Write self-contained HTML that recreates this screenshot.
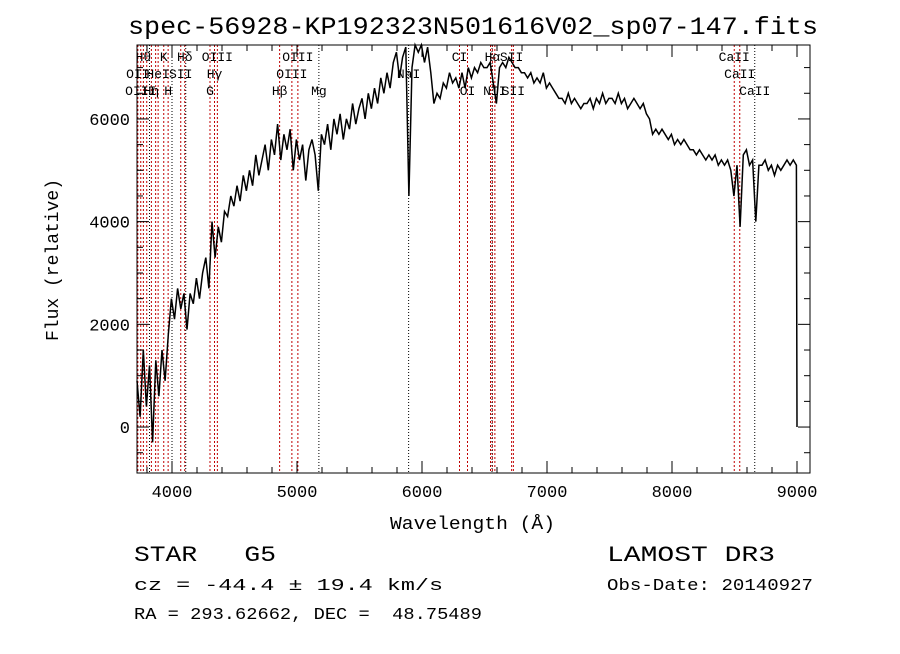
<!DOCTYPE html>
<html><head><meta charset="utf-8"><style>
body{margin:0;background:#fff;width:900px;height:649px;overflow:hidden}
svg text{font-family:"Liberation Mono",monospace;fill:#000;white-space:pre}
</style></head><body>
<svg id="chart" width="900" height="649" xmlns="http://www.w3.org/2000/svg">
<rect width="900" height="649" fill="#fff"/>
<text x="128" y="34" font-size="25" textLength="690" lengthAdjust="spacingAndGlyphs">spec-56928-KP192323N501616V02_sp07-147.fits</text>
<g id="lines"></g><g id="spec"></g><g id="axes"></g>
<text x="390" y="529" font-size="18" textLength="165" lengthAdjust="spacingAndGlyphs">Wavelength (Å)</text>
<text transform="translate(58,260) rotate(-90)" font-size="18" text-anchor="middle">Flux (relative)</text>
<text x="134" y="561" font-size="22" textLength="142" lengthAdjust="spacingAndGlyphs">STAR   G5</text>
<text x="607" y="561" font-size="22" textLength="168" lengthAdjust="spacingAndGlyphs">LAMOST DR3</text>
<text x="134" y="590" font-size="17" textLength="309" lengthAdjust="spacingAndGlyphs">cz = -44.4 ± 19.4 km/s</text>
<text x="607" y="590" font-size="17" textLength="206" lengthAdjust="spacingAndGlyphs">Obs-Date: 20140927</text>
<text x="134" y="619" font-size="17" textLength="348" lengthAdjust="spacingAndGlyphs">RA = 293.62662, DEC =  48.75489</text>
</svg>
<script>
const wlStart=3720, wlStep=25;
const flux=[900,200,1500,400,1200,-300,1300,600,
1500,900,1800,2500,2100,2700,2300,2600,
1900,2600,2400,2900,2500,3000,3300,2700,
4000,3300,3900,3600,4200,4100,4500,4300,
4700,4400,4900,4600,5000,4700,5300,4900,
5200,5500,5000,5600,5300,5900,5200,5700,
5400,5800,5000,5600,5200,5500,4800,5400,
5600,5300,4600,5700,5500,5900,5400,6000,
5700,6100,5600,6000,5800,6300,5900,6200,
6400,6000,6500,6200,6600,6300,6800,6500,
6900,6600,7100,7300,6800,7200,7400,4500,
7000,7500,7300,7600,7100,7400,6900,6300,
6500,6400,6700,6600,6900,6700,6800,6600,
6900,6600,7000,6800,7000,6900,7100,7000,
7000,7100,6700,6300,7000,7100,7000,7200,
7100,7000,7000,6900,6900,6800,6900,6700,
6800,6700,6900,6600,6700,6600,6500,6400,
6400,6300,6500,6300,6400,6300,6200,6300,
6300,6400,6200,6400,6300,6500,6300,6400,
6400,6300,6500,6300,6400,6200,6300,6400,
6300,6200,6300,6100,6000,5700,5800,5700,
5800,5700,5600,5700,5500,5600,5500,5600,
5500,5400,5400,5300,5400,5300,5200,5300,
5200,5300,5100,5200,5100,5200,5000,4500,
5100,3900,5300,5400,5100,5200,4000,5100,
5100,5200,5000,5100,4900,5100,5000,5100,
5200,5100,5200,5100,0];
const xTicks=[4000,5000,6000,7000,8000,9000];
const yTicks=[0,2000,4000,6000];
const redLines=[3727,3750,3771,3798,3835,3869,3889,3934,3969,4070,4102,4304,4340,4363,4861,4959,5007,6300,6364,6548,6563,6583,6717,6731,8498,8542];
const blackLines=[3820,4000,4110,5175,5893,6560,8662];
const lineLabels=["Hθ","K","Hδ","OIII","OIII","CI","Hα","SII","CaII","OII","HeI","SII","Hγ","OIII","NaI","CaII","OIII","Hη","H","G","Hβ","Mg","OI","NII","SII","CaII"];
const labelWl=[3771,3934,4102,4363,5007,6300,6563,6717,8498,3727,3889,4070,4340,4959,5893,8542,3750,3835,3969,4304,4861,5175,6364,6583,6731,8662];
const labelRow=[0,0,0,0,0,0,0,0,0,1,1,1,1,1,1,1,2,2,2,2,2,2,2,2,2,2];
const X0=137,X1=810,Y0=45,Y1=473,WMIN=3720,WMAX=9104,FMIN=-895,FMAX=7440;
const xs=w=>X0+(w-WMIN)/(WMAX-WMIN)*(X1-X0);
const ys=f=>Y1-(f-FMIN)/(FMAX-FMIN)*(Y1-Y0);
const NS="http://www.w3.org/2000/svg";
function mk(tag,parent,attrs){const e=document.createElementNS(NS,tag);for(const k in attrs)e.setAttribute(k,attrs[k]);parent.appendChild(e);return e;}
const gL=document.getElementById('lines'),gS=document.getElementById('spec'),gA=document.getElementById('axes');
redLines.forEach(w=>{const l=mk('line',gL,{x1:xs(w),x2:xs(w),y1:Y0,y2:Y1,stroke:'#c00000','stroke-width':1,'stroke-dasharray':'2,2'});

});
blackLines.forEach(w=>{const l=mk('line',gL,{x1:xs(w),x2:xs(w),y1:Y0,y2:Y1,stroke:'#000','stroke-width':1,'stroke-dasharray':'1,2'});

});
lineLabels.forEach((t,i)=>{const e=mk('text',gL,{x:xs(labelWl[i]),y:61+labelRow[i]*17,'font-size':13,'text-anchor':'middle','font-family':'Liberation Serif,serif'});e.textContent=t;

});
let d='';flux.forEach((f,i)=>{const w=i===flux.length-1?9000:wlStart+i*wlStep;d+=(i?'L':'M')+xs(w).toFixed(1)+','+Math.max(Y0,Math.min(Y1,ys(f))).toFixed(1);});
const p=mk('path',gS,{d:d,fill:'none',stroke:'#000','stroke-width':1.5});


const fr=mk('rect',gA,{x:X0,y:Y0,width:X1-X0,height:Y1-Y0,fill:'none',stroke:'#000','stroke-width':1});


for(let w=3800;w<=9100;w+=200){const L=(w%1000===0)?12:6;
mk('line',gA,{x1:xs(w),x2:xs(w),y1:Y1,y2:Y1-L,stroke:'#000'});mk('line',gA,{x1:xs(w),x2:xs(w),y1:Y0,y2:Y0+L,stroke:'#000'});}
xTicks.forEach(w=>{const t=mk('text',gA,{x:xs(w),y:Y1+24,'font-size':17,'text-anchor':'middle'});t.textContent=w;

});
for(let f=-500;f<=7000;f+=500){const L=(f%2000===0)?12:6;
mk('line',gA,{x1:X0,x2:X0+L,y1:ys(f),y2:ys(f),stroke:'#000'});mk('line',gA,{x1:X1,x2:X1-L,y1:ys(f),y2:ys(f),stroke:'#000'});}
yTicks.forEach(f=>{const t=mk('text',gA,{x:X0-7,y:ys(f)+6,'font-size':17,'text-anchor':'end'});t.textContent=f;

});
</script>
</body></html>
